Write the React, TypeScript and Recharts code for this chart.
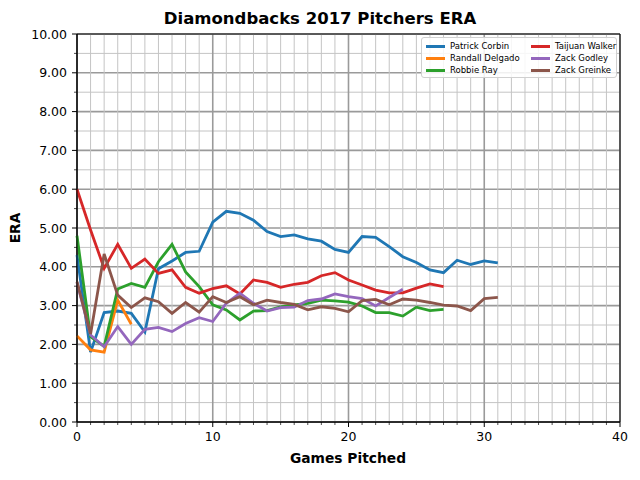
// Diamondbacks 2017 pitchers: running ERA per game pitched, matplotlib-style look.
import React from 'react';
import {
  LineChart, Line, XAxis, YAxis, CartesianGrid, Legend, ReferenceArea
} from 'recharts';

const games = [0, 1, 2, 3, 4, 5, 6, 7, 8, 9, 10, 11, 12, 13, 14, 15, 16, 17, 18, 19, 20, 21, 22, 23, 24, 25, 26, 27, 28, 29, 30, 31];

const corbin = [4.3, 1.8, 2.82, 2.86, 2.8, 2.32, 3.95, 4.15, 4.37, 4.4, 5.15, 5.43, 5.38, 5.2, 4.91, 4.78, 4.82, 4.72, 4.66, 4.45, 4.37, 4.78, 4.76, 4.52, 4.26, 4.11, 3.92, 3.85, 4.17, 4.06, 4.15, 4.1];
const delgado = [2.22, 1.86, 1.8, 3.14, 2.52];
const ray = [4.8, 2.2, 1.95, 3.43, 3.57, 3.47, 4.13, 4.58, 3.87, 3.49, 3.02, 2.89, 2.63, 2.86, 2.87, 2.97, 3.02, 3.06, 3.14, 3.12, 3.09, 2.99, 2.82, 2.82, 2.73, 2.96, 2.87, 2.9];
const walker = [6.0, 4.95, 3.96, 4.58, 3.96, 4.2, 3.83, 3.92, 3.47, 3.32, 3.44, 3.51, 3.3, 3.66, 3.6, 3.47, 3.55, 3.6, 3.77, 3.85, 3.66, 3.53, 3.4, 3.33, 3.33, 3.45, 3.56, 3.49];
const godley = [3.6, 2.24, 1.94, 2.46, 2.0, 2.39, 2.44, 2.33, 2.54, 2.69, 2.59, 3.06, 3.32, 3.06, 2.86, 2.95, 2.96, 3.13, 3.17, 3.3, 3.23, 3.18, 2.99, 3.21, 3.42];
const greinke = [3.62, 2.27, 4.33, 3.27, 2.95, 3.2, 3.1, 2.8, 3.08, 2.83, 3.23, 3.08, 3.23, 3.02, 3.14, 3.08, 3.03, 2.89, 2.97, 2.93, 2.84, 3.13, 3.16, 3.02, 3.17, 3.14, 3.08, 3.01, 2.99, 2.87, 3.18, 3.21];

const pitchers = [
  { key: 'corbin', name: 'Patrick Corbin', color: '#1f77b4', values: corbin },
  { key: 'delgado', name: 'Randall Delgado', color: '#ff7f0e', values: delgado },
  { key: 'ray', name: 'Robbie Ray', color: '#2ca02c', values: ray },
  { key: 'walker', name: 'Taijuan Walker', color: '#d62728', values: walker },
  { key: 'godley', name: 'Zack Godley', color: '#9467bd', values: godley },
  { key: 'greinke', name: 'Zack Greinke', color: '#8c564b', values: greinke },
];

// tick positions: majors get labels, minors only a short tick + light grid line
const xTicks = Array.from({ length: 41 }, (_, i) => i);
const yTicks = Array.from({ length: 21 }, (_, i) => i * 0.5);

const rows = games.map((g, i) => {
  const row: Record<string, number | null> = { g };
  pitchers.forEach(p => { row[p.key] = i < p.values.length ? p.values[i] : null; });
  return row;
});

const FONT = '"DejaVu Sans", sans-serif';

const XTick = (props: any) => {
  const { x, y, payload } = props;
  const major = payload.value % 10 === 0;
  return (
    <g>
      <line x1={x} x2={x} y1={y} y2={y + (major ? 5 : 3)} stroke="#000" strokeWidth={major ? 1 : 0.7} />
      {major && (
        <text x={x} y={y + 19} textAnchor="middle" fontSize={12.5} fontFamily={FONT} fill="#000">{payload.value}</text>
      )}
    </g>
  );
};

const YTick = (props: any) => {
  const { x, y, payload } = props;
  const major = payload.value % 1 === 0;
  return (
    <g>
      <line x1={x} x2={x - (major ? 5 : 3)} y1={y} y2={y} stroke="#000" strokeWidth={major ? 1 : 0.7} />
      {major && (
        <text x={x - 10} y={y} dy="0.36em" textAnchor="end" fontSize={12.5} fontFamily={FONT} fill="#000">{payload.value.toFixed(2)}</text>
      )}
    </g>
  );
};

// grid lines: every second one (integers / multiples of 10) is darker and thicker
const hLine = (p: any) => {
  const major = p.index % 2 === 0;
  return <line key={`h${p.index}`} x1={p.x1} x2={p.x2} y1={p.y1} y2={p.y2} stroke={major ? '#9a9a9a' : '#c4c4c4'} strokeWidth={major ? 1.6 : 1} />;
};
const vLine = (p: any) => {
  const major = p.index % 10 === 0;
  return <line key={`v${p.index}`} x1={p.x1} x2={p.x2} y1={p.y1} y2={p.y2} stroke={major ? '#9a9a9a' : '#c4c4c4'} strokeWidth={major ? 1.6 : 1} />;
};

const LegendBox = ({ payload }: any) => (
  <div style={{
    width: 196, height: 41, boxSizing: 'border-box', border: '1px solid #d0d0d0', borderRadius: 3,
    background: 'rgba(255,255,255,0.85)', display: 'grid', gridAutoFlow: 'column',
    gridTemplateRows: 'repeat(3, 12px)', gridTemplateColumns: '105px 90px', paddingTop: 2,
    fontFamily: FONT, fontSize: 8.5, color: '#000'
  }}>
    {(payload || []).map((it: any) => (
      <div key={it.value} style={{ display: 'flex', alignItems: 'center' }}>
        <span style={{ display: 'inline-block', width: 19, height: 3, background: it.color, marginLeft: 4, marginRight: 5 }} />
        {it.value}
      </div>
    ))}
  </div>
);

export default function App() {
  return (
    <div style={{ position: 'absolute', left: 0, top: 0, width: 640, height: 480, background: '#fff' }}>
      <LineChart width={640} height={480} data={rows} margin={{ top: 34, right: 20, bottom: 28, left: 0 }}>
        <CartesianGrid horizontal={hLine} vertical={vLine} />
        <XAxis dataKey="g" type="number" domain={[0, 40]} ticks={xTicks} interval={0}
          height={30} tickSize={0} tickMargin={0} tickLine={false} stroke="#000" tick={<XTick />} />
        <YAxis type="number" domain={[0, 10]} ticks={yTicks} interval={0}
          width={77} tickSize={0} tickMargin={0} tickLine={false} stroke="#000" tick={<YTick />} />
        {pitchers.map(p => (
          <Line key={p.key} dataKey={p.key} name={p.name} stroke={p.color} strokeWidth={2.8}
            dot={false} activeDot={false} connectNulls={false} isAnimationActive={false} />
        ))}
        <ReferenceArea x1={0} x2={40} y1={0} y2={10} fill="none" stroke="#000" strokeWidth={1} ifOverflow="visible" />
        <Legend layout="vertical" align="center" verticalAlign="middle" content={<LegendBox />}
          wrapperStyle={{ left: 421, top: 37, width: 196, height: 41 }} />
      </LineChart>
      <svg width={640} height={480} style={{ position: 'absolute', left: 0, top: 0, pointerEvents: 'none' }}>
        <text x={320} y={24} textAnchor="middle" fontFamily={FONT} fontWeight="bold" fontSize={16.5}>Diamondbacks 2017 Pitchers ERA</text>
        <text x={348} y={463} textAnchor="middle" fontFamily={FONT} fontWeight="bold" fontSize={13.8}>Games Pitched</text>
        <text x={0} y={0} transform="translate(20,228) rotate(-90)" textAnchor="middle" fontFamily={FONT} fontWeight="bold" fontSize={13.8}>ERA</text>
      </svg>
    </div>
  );
}
